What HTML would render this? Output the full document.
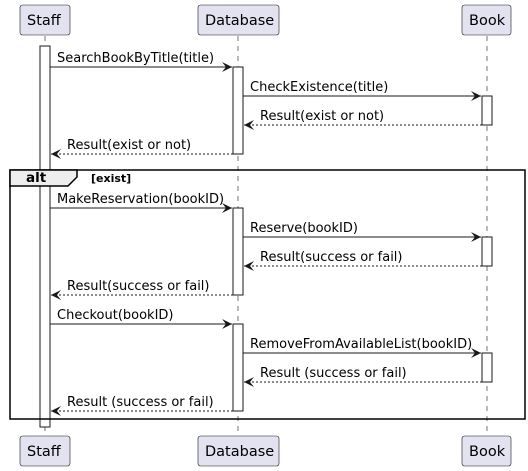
<!DOCTYPE html>
<html><head><meta charset="utf-8"><style>
html,body{margin:0;padding:0;background:#fff;}
svg{display:block;}
text{font-family:"DejaVu Sans","Liberation Sans",sans-serif;font-size:13px;fill:#000;}
.p{font-size:14.5px;}
</style></head><body>
<svg width="528" height="471" viewBox="0 0 528 471" xmlns="http://www.w3.org/2000/svg">
<defs>
<marker id="a" viewBox="0 0 10 10" refX="10" refY="5" markerWidth="12" markerHeight="10" markerUnits="userSpaceOnUse" orient="auto"><path d="M0,0 L10,5 L0,10 L4,5 Z" fill="#181818"/></marker>
<marker id="o" viewBox="0 0 10 10" refX="10" refY="5" markerWidth="12" markerHeight="10" markerUnits="userSpaceOnUse" orient="auto"><path d="M0,0 L10,5 L0,10 L4,5 Z" fill="#181818"/></marker>
</defs>
<g stroke="#181818" stroke-width="0.6" stroke-dasharray="5,5">
<line x1="45" y1="36" x2="45" y2="435"/>
<line x1="238" y1="36" x2="238" y2="435"/>
<line x1="487" y1="36" x2="487" y2="435"/>
</g>
<g fill="#E2E2F0" stroke="#181818" stroke-width="0.6">
<rect x="20" y="5" width="50" height="30" rx="2.5"/>
<rect x="198" y="5" width="81" height="30" rx="2.5"/>
<rect x="462" y="5" width="49" height="30" rx="2.5"/>
<rect x="20" y="436" width="50" height="30" rx="2.5"/>
<rect x="198" y="436" width="81" height="30" rx="2.5"/>
<rect x="462" y="436" width="49" height="30" rx="2.5"/>
</g>
<text class="p" x="27" y="25">Staff</text><text class="p" x="205" y="25">Database</text><text class="p" x="469" y="25">Book</text>
<text class="p" x="27" y="456">Staff</text><text class="p" x="205" y="456">Database</text><text class="p" x="469" y="456">Book</text>
<g fill="#fff" stroke="#181818" stroke-width="1">
<rect x="40" y="46" width="10" height="381"/>
<rect x="233" y="67" width="10" height="87"/>
<rect x="482" y="96" width="10" height="29"/>
<rect x="233" y="208" width="10" height="87"/>
<rect x="482" y="237" width="10" height="29"/>
<rect x="233" y="324" width="10" height="87"/>
<rect x="482" y="353" width="10" height="29"/>
</g>
<rect x="10" y="170" width="515" height="249" fill="none" stroke="#000" stroke-width="1.5"/>
<path d="M10,170 L77,170 L77,177 L68,186 L10,186 Z" fill="#EEEEEE" stroke="#000" stroke-width="1.5"/>
<text x="26" y="182" style="font-weight:bold;font-size:13.5px">alt</text>
<text x="91" y="182" style="font-weight:bold;font-size:11px">[exist]</text>
<g stroke="#181818" stroke-width="1" fill="none">
<line x1="50" y1="67" x2="232" y2="67" marker-end="url(#a)"/>
<line x1="243" y1="96" x2="481" y2="96" marker-end="url(#a)"/>
<line x1="482" y1="125" x2="244" y2="125" stroke-dasharray="2,2" marker-end="url(#o)"/>
<line x1="233" y1="154" x2="51" y2="154" stroke-dasharray="2,2" marker-end="url(#o)"/>
<line x1="50" y1="208" x2="232" y2="208" marker-end="url(#a)"/>
<line x1="243" y1="237" x2="481" y2="237" marker-end="url(#a)"/>
<line x1="482" y1="266" x2="244" y2="266" stroke-dasharray="2,2" marker-end="url(#o)"/>
<line x1="233" y1="295" x2="51" y2="295" stroke-dasharray="2,2" marker-end="url(#o)"/>
<line x1="50" y1="324" x2="232" y2="324" marker-end="url(#a)"/>
<line x1="243" y1="353" x2="481" y2="353" marker-end="url(#a)"/>
<line x1="482" y1="382" x2="244" y2="382" stroke-dasharray="2,2" marker-end="url(#o)"/>
<line x1="233" y1="411" x2="51" y2="411" stroke-dasharray="2,2" marker-end="url(#o)"/>
</g>
<text x="57" y="62">SearchBookByTitle(title)</text>
<text x="250" y="91">CheckExistence(title)</text>
<text x="260" y="120">Result(exist or not)</text>
<text x="67" y="149">Result(exist or not)</text>
<text x="57" y="203">MakeReservation(bookID)</text>
<text x="250" y="232">Reserve(bookID)</text>
<text x="260" y="261">Result(success or fail)</text>
<text x="67" y="290">Result(success or fail)</text>
<text x="57" y="319">Checkout(bookID)</text>
<text x="250" y="348">RemoveFromAvailableList(bookID)</text>
<text x="260" y="377">Result (success or fail)</text>
<text x="67" y="406">Result (success or fail)</text>
</svg>
</body></html>
